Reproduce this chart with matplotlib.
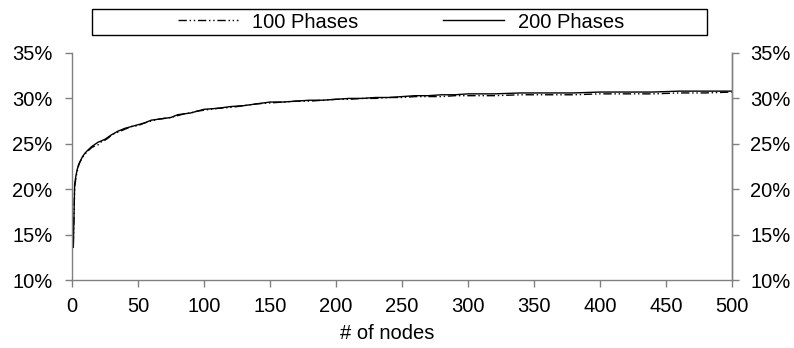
import matplotlib
matplotlib.use("Agg")
import matplotlib.pyplot as plt
from matplotlib.patches import Rectangle
from matplotlib.ticker import FuncFormatter

plt.rcParams['font.family'] = ['Liberation Sans', 'DejaVu Sans']

# nombre de noeuds
nodes = [1, 2, 3, 4, 5, 6, 8, 10, 12, 15, 18, 20, 22, 25, 28, 30, 35, 40, 45, 50,
         55, 60, 65, 70, 75, 80, 85, 90, 95, 100, 110, 120, 130, 140, 150, 160,
         170, 180, 190, 200, 210, 220, 230, 240, 250, 260, 270, 280, 290, 300,
         320, 340, 360, 380, 400, 420, 440, 460, 480, 500]

# taux (%) - 200 phases
phases_200 = [13.6, 20.5, 21.5, 22.2, 22.7, 23.0, 23.6, 24.0, 24.3, 24.7, 25.0, 25.2,
              25.3, 25.5, 25.8, 26.0, 26.4, 26.7, 26.9, 27.1, 27.3, 27.6, 27.7, 27.8,
              27.9, 28.2, 28.3, 28.4, 28.6, 28.8, 28.9, 29.1, 29.2, 29.4, 29.6, 29.6,
              29.7, 29.8, 29.8, 29.9, 30.0, 30.0, 30.1, 30.1, 30.2, 30.3, 30.3, 30.4,
              30.4, 30.5, 30.5, 30.6, 30.6, 30.6, 30.7, 30.7, 30.7, 30.8, 30.8, 30.8]

# taux (%) - 100 phases
phases_100 = [13.9, 20.2, 21.3, 22.0, 22.6, 23.0, 23.5, 23.9, 24.2, 24.6, 24.8, 24.9,
              25.2, 25.4, 25.7, 26.0, 26.3, 26.6, 26.9, 27.0, 27.3, 27.5, 27.7, 27.8,
              27.9, 28.1, 28.3, 28.4, 28.6, 28.7, 28.9, 29.0, 29.2, 29.4, 29.5, 29.6,
              29.7, 29.7, 29.8, 29.9, 29.9, 30.0, 30.0, 30.1, 30.1, 30.2, 30.2, 30.2,
              30.3, 30.3, 30.3, 30.4, 30.4, 30.4, 30.5, 30.5, 30.5, 30.6, 30.6, 30.7]

x_ticks = list(range(0, 501, 50))
y_ticks = [10, 15, 20, 25, 30, 35]

taille = 14.5

fig = plt.figure(figsize=(7.94, 3.48), dpi=100)
ax = fig.add_axes([72 / 794, 1 - 280 / 348, 660 / 794, 227 / 348])

ax.plot(nodes, phases_100, color='black', linewidth=1.0,
        linestyle=(0, (6, 2, 1, 2, 1, 2)), label='100 Phases')
ax.plot(nodes, phases_200, color='black', linewidth=1.0, label='200 Phases')

ax.set_xlim(0, 500)
ax.set_ylim(10, 35)
ax.set_xticks(x_ticks)
ax.set_yticks(y_ticks)
ax.yaxis.set_major_formatter(FuncFormatter(lambda v, p: f'{v:.0f}%'))

# axe de droite identique
ax2 = ax.twinx()
ax2.set_ylim(10, 35)
ax2.set_yticks(y_ticks)
ax2.yaxis.set_major_formatter(FuncFormatter(lambda v, p: f'{v:.0f}%'))

gris = '#808080'
for a in (ax, ax2):
    a.spines['top'].set_visible(False)
    for s in ('left', 'right', 'bottom'):
        a.spines[s].set_color(gris)
        a.spines[s].set_linewidth(1.0)
    a.tick_params(direction='out', length=5, width=1.0, color=gris,
                  labelsize=taille, labelcolor='black', pad=8)
ax.tick_params(axis='y', pad=9)
ax.tick_params(axis='x', pad=7)
ax2.spines['left'].set_visible(False)
ax2.spines['bottom'].set_visible(False)

ax.set_xlabel('# of nodes', fontsize=taille, x=0.478, labelpad=6)

# légende horizontale avec cadre
handles, labels = ax.get_legend_handles_labels()
fig.legend(handles, labels, ncol=2, loc='center', bbox_to_anchor=(401 / 794, 1 - 22 / 348),
           frameon=False, fontsize=taille, handlelength=3.0, handletextpad=0.7,
           columnspacing=4.2)
fig.patches.append(Rectangle((92 / 794, 1 - 35 / 348), 615 / 794, 26 / 348,
                             transform=fig.transFigure, fill=False,
                             edgecolor='black', linewidth=1.0))

fig.savefig('out.png', dpi=100)
